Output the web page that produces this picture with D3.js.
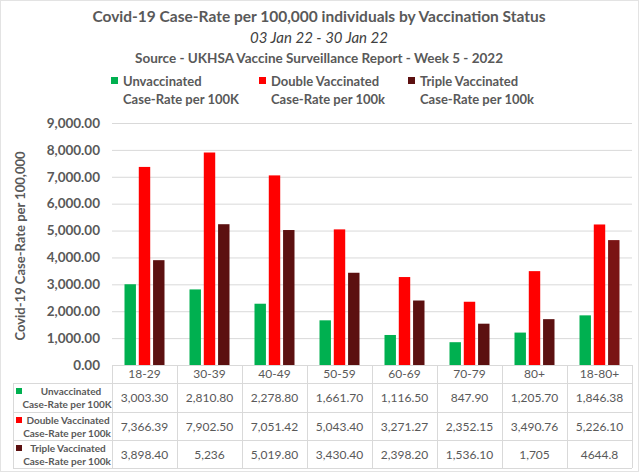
<!DOCTYPE html>
<html>
<head>
<meta charset="utf-8">
<script src="https://cdn.jsdelivr.net/npm/d3@7"></script>
<style>
  body { margin: 0; background: #fff; }
  svg { display: block; font-family: Lato, "Open Sans", sans-serif; }
</style>
</head>
<body>
<svg width="639" height="472"></svg>
<script>
// data
const categories = ["18-29", "30-39", "40-49", "50-59", "60-69", "70-79", "80+", "18-80+"];
const unvaccinated = [3003.30, 2810.80, 2278.80, 1661.70, 1116.50, 847.90, 1205.70, 1846.38];
const doubleVacc = [7366.39, 7902.50, 7051.42, 5043.40, 3271.27, 2352.15, 3490.76, 5226.10];
const tripleVacc = [3898.40, 5236, 5019.80, 3430.40, 2398.20, 1536.10, 1705, 4644.8];
// table cells are shown as they appear in the source sheet
const unvaccLabels = ["3,003.30", "2,810.80", "2,278.80", "1,661.70", "1,116.50", "847.90", "1,205.70", "1,846.38"];
const doubleLabels = ["7,366.39", "7,902.50", "7,051.42", "5,043.40", "3,271.27", "2,352.15", "3,490.76", "5,226.10"];
const tripleLabels = ["3,898.40", "5,236", "5,019.80", "3,430.40", "2,398.20", "1,536.10", "1,705", "4644.8"];
const seriesNames = [["Unvaccinated", "Case-Rate per 100K"], ["Double Vaccinated", "Case-Rate per 100k"], ["Triple Vaccinated", "Case-Rate per 100k"]];
const yTicks = [0, 1000, 2000, 3000, 4000, 5000, 6000, 7000, 8000, 9000];

const colors = ["#00B050", "#FF0000", "#5C1010"];
const textCol = "#595959";
const gridCol = "#D9D9D9";

const svg = d3.select("svg");
const plot = {left: 112, right: 632, top: 123, bottom: 365};

// outer frame
svg.append("rect")
    .attr("x", 0.5).attr("y", 0.5).attr("width", 638).attr("height", 471)
    .attr("fill", "none").attr("stroke", "#E3E3E3");

// titles
svg.append("text").attr("x", 319).attr("y", 22).attr("text-anchor", "middle")
    .attr("font-size", 15.5).attr("font-weight", 700).attr("fill", textCol)
    .text("Covid-19 Case-Rate per 100,000 individuals by Vaccination Status");
svg.append("text").attr("x", 319).attr("y", 43).attr("text-anchor", "middle")
    .attr("font-size", 15).attr("font-style", "italic").attr("fill", "#404040")
    .text("03 Jan 22 - 30 Jan 22");
svg.append("text").attr("x", 319).attr("y", 63).attr("text-anchor", "middle")
    .attr("font-size", 13.5).attr("font-weight", 700).attr("fill", textCol)
    .text("Source - UKHSA Vaccine Surveillance Report - Week 5 - 2022");

// legend
const legendX = [111, 259, 408];
seriesNames.forEach((name, i) => {
    const g = svg.append("g").attr("transform", "translate(" + legendX[i] + ",0)");
    g.append("rect").attr("x", 0).attr("y", 77).attr("width", 7).attr("height", 7).attr("fill", colors[i]);
    g.append("text").attr("x", 12).attr("y", 86).attr("font-size", 13).attr("font-weight", 700)
        .attr("fill", textCol).text(name[0]);
    g.append("text").attr("x", 12).attr("y", 104).attr("font-size", 13).attr("font-weight", 700)
        .attr("fill", textCol).text(name[1]);
});

// scales
const y = d3.scaleLinear().domain([0, 9000]).range([plot.bottom, plot.top]);
const x = d3.scaleBand().domain(categories).range([plot.left, plot.right]);
const xs = d3.scaleBand().domain([0, 1, 2]).range([12.5, x.bandwidth() - 12.5]).paddingInner(0.2);

// gridlines
svg.append("g").selectAll("line").data(yTicks.slice(1)).enter().append("line")
    .attr("x1", plot.left).attr("x2", plot.right)
    .attr("y1", d => y(d) + 0.5).attr("y2", d => y(d) + 0.5)
    .attr("stroke", gridCol);

// y axis labels
const yAxis = d3.axisLeft(y).tickValues(yTicks).tickFormat(d3.format(",.2f")).tickSize(0).tickPadding(12);
const yg = svg.append("g").attr("transform", "translate(" + plot.left + ",0)").call(yAxis);
yg.select(".domain").remove();
yg.selectAll("text").attr("font-family", "Lato, sans-serif").attr("font-size", 13.5)
    .attr("font-weight", 700).attr("fill", textCol);

svg.append("text")
    .attr("transform", "translate(25," + ((plot.top + plot.bottom) / 2 + 2) + ") rotate(-90)")
    .attr("text-anchor", "middle").attr("font-size", 13).attr("font-weight", 700).attr("fill", textCol)
    .text("Covid-19 Case-Rate per 100,000");

// bars
const series = [unvaccinated, doubleVacc, tripleVacc];
const barData = [];
categories.forEach((c, ci) => {
    series.forEach((s, si) => barData.push({cat: c, s: si, v: s[ci]}));
});
svg.append("g").selectAll("rect").data(barData).enter().append("rect")
    .attr("x", d => x(d.cat) + xs(d.s))
    .attr("width", xs.bandwidth())
    .attr("y", d => y(d.v))
    .attr("height", d => y(0) - y(d.v))
    .attr("fill", d => (d.s === 2 && d.cat === "18-80+") ? "#7A1414" : colors[d.s]);

// data table
const rowY = [365, 383, 412, 440, 468];
const tableLeft = 13;
const tg = svg.append("g").attr("stroke", gridCol).attr("shape-rendering", "crispEdges");
tg.append("line").attr("x1", plot.left).attr("x2", plot.right).attr("y1", rowY[0]).attr("y2", rowY[0]);
rowY.slice(1).forEach(ry => {
    tg.append("line").attr("x1", tableLeft).attr("x2", plot.right).attr("y1", ry).attr("y2", ry);
});
tg.append("line").attr("x1", tableLeft).attr("x2", tableLeft).attr("y1", rowY[1]).attr("y2", rowY[4]);
categories.forEach(c => {
    tg.append("line").attr("x1", x(c)).attr("x2", x(c)).attr("y1", rowY[0]).attr("y2", rowY[4]);
});
tg.append("line").attr("x1", plot.right).attr("x2", plot.right).attr("y1", rowY[0]).attr("y2", rowY[4]);

// category header row
svg.append("g").selectAll("text").data(categories).enter().append("text")
    .attr("x", d => x(d) + x.bandwidth() / 2).attr("y", 378)
    .attr("text-anchor", "middle").attr("font-size", 12).attr("fill", textCol).text(d => d);

// value rows
const tableLabels = [unvaccLabels, doubleLabels, tripleLabels];
tableLabels.forEach((row, ri) => {
    const cy = (rowY[ri + 1] + rowY[ri + 2]) / 2;
    svg.append("g").selectAll("text").data(row).enter().append("text")
        .attr("x", (d, i) => x(categories[i]) + x.bandwidth() / 2).attr("y", cy + 4.5)
        .attr("text-anchor", "middle").attr("font-size", 12).attr("fill", textCol).text(d => d);
    svg.append("rect").attr("x", 16).attr("y", rowY[ri + 1] + 5).attr("width", 6).attr("height", 6)
        .attr("fill", colors[ri]);
    svg.append("text").attr("x", ri === 0 ? 71 : 68).attr("y", rowY[ri + 1] + 11.5).attr("text-anchor", "middle")
        .attr("font-size", 10).attr("font-weight", 700).attr("fill", textCol).text(seriesNames[ri][0]);
    svg.append("text").attr("x", 67).attr("y", rowY[ri + 1] + 25).attr("text-anchor", "middle")
        .attr("font-size", 10).attr("font-weight", 700).attr("fill", textCol).text(seriesNames[ri][1]);
});
</script>
</body>
</html>
